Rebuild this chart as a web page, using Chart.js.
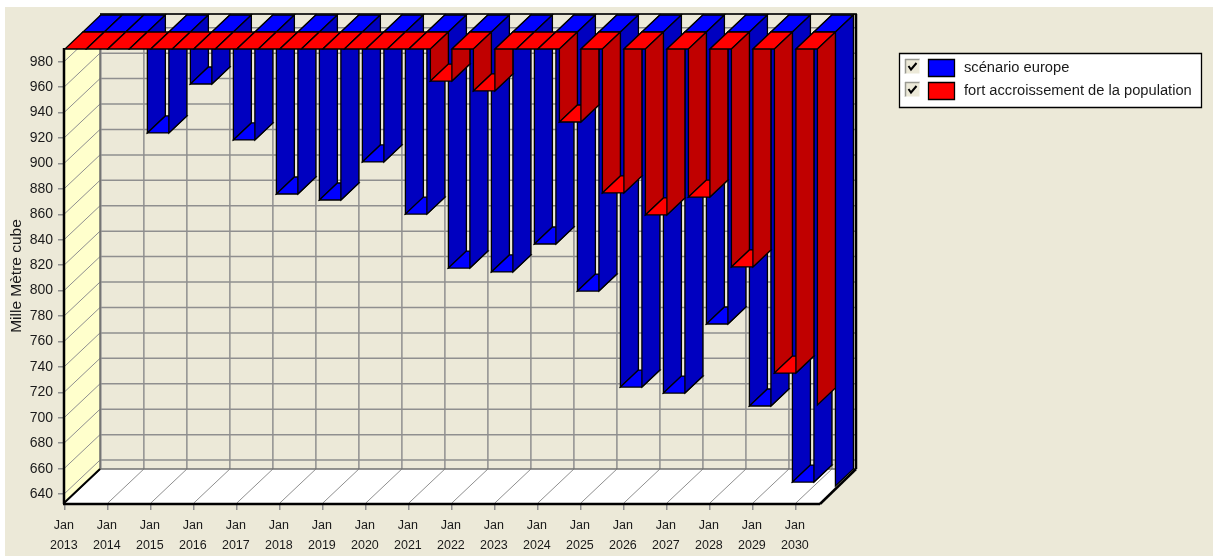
<!DOCTYPE html>
<html lang="fr">
<head>
<meta charset="utf-8">
<title>Mille Mètre cube</title>
<script src="https://cdn.jsdelivr.net/npm/chart.js@4/dist/chart.umd.min.js"></script>
<style>
  html, body { margin: 0; padding: 0; background: #fff; }
  canvas { display: block; }
</style>
</head>
<body>
<canvas id="chart" width="1218" height="556"></canvas>
<script>
// Years on the time axis; 2031 runs off the plot and has no tick.
const years = [2013, 2014, 2015, 2016, 2017, 2018, 2019, 2020, 2021, 2022, 2023, 2024, 2025, 2026, 2027, 2028, 2029, 2030, 2031];
const tickYears = [2013, 2014, 2015, 2016, 2017, 2018, 2019, 2020, 2021, 2022, 2023, 2024, 2025, 2026, 2027, 2028, 2029, 2030];
const valueTicks = [640, 660, 680, 700, 720, 740, 760, 780, 800, 820, 840, 860, 880, 900, 920, 940, 960, 980];
const scenarioEurope = [990, 990, 910.6, 949.1, 905.1, 862.6, 857.9, 887.8, 846.8, 804.4, 801.3, 823.3, 786.3, 710.8, 706.1, 760.4, 695.9, 636.1, 633];
const fortAccroissement = [990, 990, 990, 990, 990, 990, 990, 990, 990, 964.8, 957, 990, 932.6, 876.8, 859.5, 873.6, 818.6, 735.2, 710.1];
const baseLevel = 990;
const seriesNames = ['scénario europe', 'fort accroissement de la population'];

// Oblique projection: one series row is this far back on screen.
const ROW_DX = 18, ROW_DY = 17;
const ROWS = 2;
const PANEL = '#ECE9D8', GRID = '#8F8F8F';
const OUTLINE_WIDTH = 1.3;

function poly(ctx, pts, fill, stroke) {
  ctx.beginPath();
  pts.forEach((p, i) => i ? ctx.lineTo(p[0], p[1]) : ctx.moveTo(p[0], p[1]));
  ctx.closePath();
  if (fill) { ctx.fillStyle = fill; ctx.fill(); }
  if (stroke) { ctx.strokeStyle = stroke; ctx.lineWidth = OUTLINE_WIDTH; ctx.stroke(); }
}

function line(ctx, x0, y0, x1, y1, color, width) {
  ctx.beginPath();
  ctx.moveTo(x0, y0);
  ctx.lineTo(x1, y1);
  ctx.strokeStyle = color;
  ctx.lineWidth = width;
  ctx.stroke();
}

// Open-ended hanging bar: left wall, end cap, right wall.
function drawBar(ctx, x0, x1, yTop, yEnd, light, dark, wallsOnly) {
  poly(ctx, [[x0, yTop], [x0 + ROW_DX, yTop - ROW_DY], [x0 + ROW_DX, yEnd - ROW_DY], [x0, yEnd]], dark, '#000');
  if (wallsOnly) return;
  poly(ctx, [[x0, yEnd], [x1, yEnd], [x1 + ROW_DX, yEnd - ROW_DY], [x0 + ROW_DX, yEnd - ROW_DY]], light, '#000');
  poly(ctx, [[x1, yTop], [x1 + ROW_DX, yTop - ROW_DY], [x1 + ROW_DX, yEnd - ROW_DY], [x1, yEnd]], dark, '#000');
}

const panel3d = {
  id: 'panel3d',
  beforeDraw(chart) {
    const ctx = chart.ctx;
    ctx.save();
    ctx.fillStyle = PANEL;
    ctx.fillRect(5, 7, 1208, 549);
    ctx.restore();
  },
  beforeDatasetsDraw(chart) {
    const { ctx, chartArea: a, scales: { x, y } } = chart;
    const bx = ROW_DX * ROWS, by = ROW_DY * ROWS;
    ctx.save();
    poly(ctx, [[a.left, a.top], [a.left + bx, a.top - by], [a.left + bx, a.bottom - by], [a.left, a.bottom]], '#FFFFCC');
    poly(ctx, [[a.left, a.bottom], [a.right, a.bottom], [a.right + bx, a.bottom - by], [a.left + bx, a.bottom - by]], '#FFFFFF');
    valueTicks.forEach(v => {
      const py = y.getPixelForValue(v);
      line(ctx, a.left, py, a.left + bx, py - by, GRID, 1);
      line(ctx, a.left + bx, py - by, a.right + bx, py - by, GRID, 1.5);
    });
    tickYears.forEach(t => {
      const px = x.getPixelForValue(t);
      line(ctx, px, a.bottom, px + bx, a.bottom - by, GRID, 1);
      line(ctx, px + bx, a.top - by, px + bx, a.bottom - by, GRID, 1.5);
    });
    line(ctx, a.left + bx, a.top - by - 1, a.right + bx, a.top - by - 1, GRID, 1.5);
    line(ctx, a.left + bx, a.bottom - by, a.right + bx, a.bottom - by, '#707070', 1.5);
    line(ctx, a.left + bx, a.top - by, a.left + bx, a.bottom - by, '#6A6A6A', 1.5);
    ctx.restore();
  },
  beforeDatasetDraw(chart, args) {
    const { ctx, chartArea: a, scales: { y } } = chart;
    const ds = chart.data.datasets[args.index];
    const dx = ds.row * ROW_DX, dy = ds.row * ROW_DY;
    const yTop = y.getPixelForValue(baseLevel);
    ctx.save();
    ctx.translate(dx, -dy);
    args.meta.data.forEach(el => {
      const x0 = el.x - el.width / 2, x1 = el.x + el.width / 2;
      if (x1 > a.left + 1) {
        drawBar(ctx, x0, x1, yTop, el.y, ds.backgroundColor, ds.sideColor, x1 > a.right);
      }
      // Empty half-cell after each bar sits at the base level as a flat cap.
      const gapEnd = x1 + el.width;
      if (gapEnd <= a.right) {
        poly(ctx, [[x1, yTop], [gapEnd, yTop], [gapEnd + ROW_DX, yTop - ROW_DY], [x1 + ROW_DX, yTop - ROW_DY]], ds.backgroundColor, '#000');
      }
    });
    ctx.restore();
    return false;
  },
  afterDatasetsDraw(chart) {
    const { ctx, chartArea: a } = chart;
    const bx = ROW_DX * ROWS, by = ROW_DY * ROWS;
    ctx.save();
    ctx.lineJoin = 'miter';
    line(ctx, a.left, a.top - 1, a.left, a.bottom + 1, '#000', 2.5);
    line(ctx, a.left - 1, a.bottom + 1, a.right, a.bottom + 1, '#000', 2.5);
    line(ctx, a.left, a.bottom, a.left + bx, a.bottom - by, '#000', 2);
    line(ctx, a.right, a.bottom + 1, a.right + bx, a.bottom - by, '#000', 2.5);
    line(ctx, a.right + bx, a.bottom - by, a.right + bx, a.top - by - 1, '#000', 2.5);
    line(ctx, a.left + bx, a.top - by - 1, a.right + bx + 1, a.top - by - 1, '#000', 1.5);
    ctx.restore();
  },
  afterDraw(chart) {
    const ctx = chart.ctx;
    ctx.save();
    poly(ctx, [[899.5, 53.5], [1201.5, 53.5], [1201.5, 107.5], [899.5, 107.5]], '#FFFFFF', '#000');
    ctx.textAlign = 'left';
    ctx.textBaseline = 'middle';
    ctx.font = '14.7px "Liberation Sans"';
    chart.data.datasets.forEach((ds, i) => {
      const top = 59 + i * 23;
      // Checkbox
      ctx.fillStyle = PANEL;
      ctx.fillRect(905, top, 15, 15);
      line(ctx, 905, top + 0.5, 920, top + 0.5, '#9A9A92', 1.5);
      line(ctx, 905.5, top, 905.5, top + 15, '#9A9A92', 1.5);
      line(ctx, 920, top, 920, top + 15, '#FFFFFF', 1);
      line(ctx, 905, top + 15, 920, top + 15, '#FFFFFF', 1);
      ctx.beginPath();
      ctx.moveTo(908.5, top + 7);
      ctx.lineTo(911, top + 10.5);
      ctx.lineTo(916.5, top + 4);
      ctx.strokeStyle = '#000';
      ctx.lineWidth = 2;
      ctx.stroke();
      // Colour swatch and series name
      poly(ctx, [[928.5, top + 0.5], [954.5, top + 0.5], [954.5, top + 17.5], [928.5, top + 17.5]], ds.backgroundColor, '#000');
      ctx.fillStyle = '#1a1a1a';
      ctx.fillText(ds.label, 964, top + 9);
    });
    ctx.restore();
  }
};

new Chart(document.getElementById('chart'), {
  type: 'bar',
  data: {
    datasets: [
      {
        label: seriesNames[0],
        data: years.map((yr, i) => ({ x: yr - 0.25, y: scenarioEurope[i] })),
        base: baseLevel,
        row: 1,
        backgroundColor: '#0000FF',
        sideColor: '#0000C0',
        order: 2
      },
      {
        label: seriesNames[1],
        data: years.map((yr, i) => ({ x: yr - 0.25, y: fortAccroissement[i] })),
        base: baseLevel,
        row: 0,
        backgroundColor: '#FF0000',
        sideColor: '#C00000',
        order: 1
      }
    ]
  },
  options: {
    responsive: false,
    animation: false,
    layout: { padding: { left: 0, right: 398, top: 49, bottom: 0 } },
    grouped: false,
    barPercentage: 0.5,
    categoryPercentage: 1,
    plugins: { legend: { display: false }, tooltip: { enabled: false } },
    scales: {
      x: {
        type: 'linear',
        offset: false,
        min: 2012.98,
        max: 2030.56,
        afterFit(s) { s.height = 53; },
        afterBuildTicks(s) { s.ticks = tickYears.map(v => ({ value: v })); },
        border: { display: false },
        grid: { drawOnChartArea: false, drawTicks: true, tickLength: 7, color: '#8F8F8F', lineWidth: 1.5, offset: false },
        ticks: {
          autoSkip: false,
          maxRotation: 0,
          minRotation: 0,
          padding: 6,
          labelOffset: -1,
          color: '#1a1a1a',
          font: { family: '"Liberation Sans"', size: 12.5, lineHeight: 1.6 },
          callback: v => ['Jan', String(v)]
        }
      },
      y: {
        min: 633,
        max: baseLevel,
        afterFit(s) { s.width = 64; },
        afterBuildTicks(s) { s.ticks = valueTicks.map(v => ({ value: v })); },
        border: { display: false },
        grid: { drawOnChartArea: false, drawTicks: true, tickLength: 6, color: '#8F8F8F', lineWidth: 1.5 },
        ticks: {
          padding: 5,
          color: '#1a1a1a',
          font: { family: '"Liberation Sans"', size: 14 },
          callback: v => String(v)
        },
        title: {
          display: true,
          text: 'Mille Mètre cube',
          color: '#1a1a1a',
          font: { family: '"Liberation Sans"', size: 15.5 },
          padding: { top: 7, bottom: 0 }
        }
      }
    }
  },
  plugins: [panel3d]
});
</script>
</body>
</html>
